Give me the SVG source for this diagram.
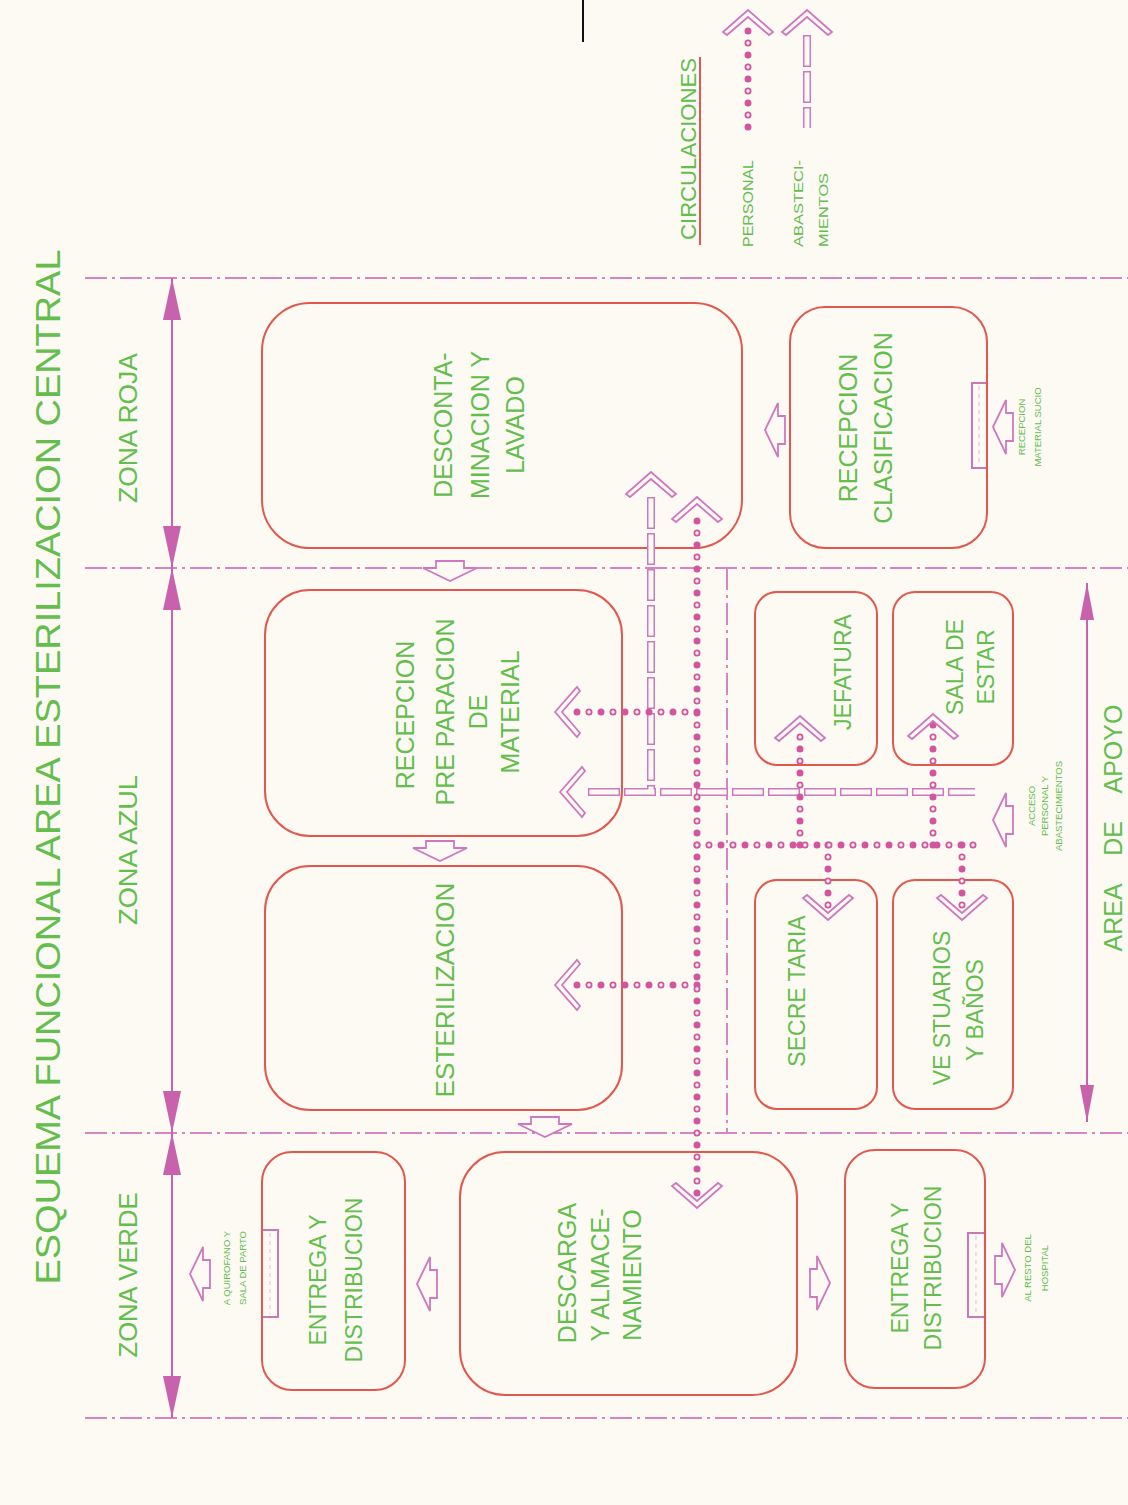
<svg xmlns="http://www.w3.org/2000/svg" xmlns:xlink="http://www.w3.org/1999/xlink" width="1128" height="1505" viewBox="0 0 1128 1505">
<style>
.bg{fill:#FCFAF3}
.t{font-family:"Liberation Sans",Arial,sans-serif;fill:#63BE4E;text-anchor:middle}
.ts{font-family:"Liberation Sans",Arial,sans-serif;fill:#63BE4E;text-anchor:start}
.room{fill:none;stroke:#E2584E;stroke-width:2}
.dd{fill:none;stroke:#D585C2;stroke-width:2;stroke-dasharray:22 5 3 5}
.dim{fill:none;stroke:#C862AC;stroke-width:2}
.tri{fill:#C862AC}
.chev{fill:#FCFAF3;stroke:#CF78BF;stroke-width:1.8}
.blk{fill:#FCFAF3;stroke:#CF78BF;stroke-width:1.8}
.brk{fill:none;stroke:#C878B5;stroke-width:2}
.brkd{fill:none;stroke:#E7B5DA;stroke-width:1;stroke-dasharray:4 4}
.so{fill:none;stroke:#CF78BF;stroke-width:8;stroke-dasharray:32 4}
.si{fill:none;stroke:#FCFAF3;stroke-width:5;stroke-dasharray:29 7;stroke-dashoffset:-1.5}
.pf{fill:none;stroke:#D3559E;stroke-width:7;stroke-linecap:round;stroke-dasharray:0 24}
.ph{fill:none;stroke:#D3559E;stroke-width:7;stroke-linecap:round;stroke-dasharray:0 24;stroke-dashoffset:-12}
.phi{fill:none;stroke:#FCFAF3;stroke-width:3.4;stroke-linecap:round;stroke-dasharray:0 24;stroke-dashoffset:-12}
</style>
<defs>
<path id="chv" d="M0,0 L25,22 L21,25 L0,7 L-21,25 L-25,22 Z"/>
<path id="blk" d="M0,-14 H7 V-27 L20,0 L7,27 V14 H0 Z"/>
<path id="sup" d="M651,497 V792 M588,792 H975 M807,35 V128"/>
<path id="pers" d="M697,521 V1200 M697,712 H573 M697,985 H570 M697,845 H978 M800,845 V725 M933,845 V723 M828,845 V912 M962,845 V912 M748,127 V22"/>
</defs>
<rect class="bg" x="0" y="0" width="1128" height="1505"/>

<g id="title">
<text class="t" font-size="35" textLength="1035" lengthAdjust="spacingAndGlyphs" dy="0.36em" transform="translate(47,767) rotate(-90)">ESQUEMA FUNCIONAL AREA ESTERILIZACION CENTRAL</text>
<line x1="583" y1="0" x2="583" y2="42" stroke="#111" stroke-width="2"/>
</g>

<g id="legend">
<text class="ts" font-size="22" textLength="182" lengthAdjust="spacingAndGlyphs" dy="0.36em" transform="translate(688,240) rotate(-90)">CIRCULACIONES</text>
<line x1="700" y1="57" x2="700" y2="245" stroke="#E2584E" stroke-width="2"/>
<text class="ts" font-size="15" textLength="87" lengthAdjust="spacingAndGlyphs" dy="0.36em" transform="translate(748,247) rotate(-90)">PERSONAL</text>
<text class="ts" font-size="13" textLength="87" lengthAdjust="spacingAndGlyphs" dy="0.36em" transform="translate(798,247) rotate(-90)">ABASTECI-</text>
<text class="ts" font-size="13" textLength="74" lengthAdjust="spacingAndGlyphs" dy="0.36em" transform="translate(823,247) rotate(-90)">MIENTOS</text>
</g>

<g id="zones">
<line class="dd" x1="85" y1="278" x2="1128" y2="278"/>
<line class="dd" x1="85" y1="568" x2="1128" y2="568"/>
<line class="dd" x1="85" y1="1133" x2="1128" y2="1133"/>
<line class="dd" x1="85" y1="1418" x2="1128" y2="1418"/>
<line class="dd" x1="727" y1="568" x2="727" y2="1133"/>
<line class="dim" x1="172" y1="278" x2="172" y2="1418"/>
<polygon class="tri" points="172,278 163,320 181,320"/>
<polygon class="tri" points="172,568 163,526 181,526"/>
<polygon class="tri" points="172,568 163,610 181,610"/>
<polygon class="tri" points="172,1133 163,1091 181,1091"/>
<polygon class="tri" points="172,1133 163,1175 181,1175"/>
<polygon class="tri" points="172,1418 163,1376 181,1376"/>
<text class="t" font-size="26" textLength="150" lengthAdjust="spacingAndGlyphs" dy="0.36em" transform="translate(128,428) rotate(-90)">ZONA ROJA</text>
<text class="t" font-size="26" textLength="150" lengthAdjust="spacingAndGlyphs" dy="0.36em" transform="translate(128,850) rotate(-90)">ZONA AZUL</text>
<text class="t" font-size="26" textLength="165" lengthAdjust="spacingAndGlyphs" dy="0.36em" transform="translate(128,1275) rotate(-90)">ZONA VERDE</text>
<line class="dim" x1="1087" y1="583" x2="1087" y2="1122"/>
<polygon class="tri" points="1087,583 1080,620 1094,620"/>
<polygon class="tri" points="1087,1122 1080,1085 1094,1085"/>
<text class="t" font-size="25" word-spacing="22" dy="0.36em" transform="translate(1113,828) rotate(-90)">AREA DE APOYO</text>
</g>

<g id="n-descontaminacion">
<rect class="room" x="262" y="303" width="480" height="245" rx="48"/>
<text class="t" font-size="25" dy="0.36em" transform="translate(443,425) rotate(-90)">DESCONTA-</text>
<text class="t" font-size="25" dy="0.36em" transform="translate(480,425) rotate(-90)">MINACION Y</text>
<text class="t" font-size="25" dy="0.36em" transform="translate(515,425) rotate(-90)">LAVADO</text>
</g>
<g id="n-recepcion-clasificacion">
<rect class="room" x="790" y="307" width="197" height="241" rx="35"/>
<text class="t" font-size="25" dy="0.36em" transform="translate(848,428) rotate(-90)">RECEPCION</text>
<text class="t" font-size="25" dy="0.36em" transform="translate(883,428) rotate(-90)">CLASIFICACION</text>
</g>
<g id="n-recepcion-preparacion">
<rect class="room" x="265" y="590" width="357" height="246" rx="45"/>
<text class="t" font-size="25" dy="0.36em" transform="translate(405,715) rotate(-90)">RECEPCION</text>
<text class="t" font-size="25" dy="0.36em" transform="translate(445,712) rotate(-90)">PRE PARACION</text>
<text class="t" font-size="25" dy="0.36em" transform="translate(478,712) rotate(-90)">DE</text>
<text class="t" font-size="25" dy="0.36em" transform="translate(510,712) rotate(-90)">MATERIAL</text>
</g>
<g id="n-esterilizacion">
<rect class="room" x="265" y="866" width="357" height="244" rx="45"/>
<text class="t" font-size="25" textLength="215" lengthAdjust="spacingAndGlyphs" dy="0.36em" transform="translate(445,990) rotate(-90)">ESTERILIZACION</text>
</g>
<g id="n-entrega-izq">
<rect class="room" x="262" y="1152" width="143" height="238" rx="30"/>
<text class="t" font-size="23" dy="0.36em" transform="translate(318,1280) rotate(-90)">ENTREGA Y</text>
<text class="t" font-size="23" dy="0.36em" transform="translate(354,1280) rotate(-90)">DISTRIBUCION</text>
</g>
<g id="n-descarga">
<rect class="room" x="460" y="1152" width="337" height="243" rx="45"/>
<text class="t" font-size="25" dy="0.36em" transform="translate(567,1273) rotate(-90)">DESCARGA</text>
<text class="t" font-size="25" dy="0.36em" transform="translate(600,1275) rotate(-90)">Y ALMACE-</text>
<text class="t" font-size="25" dy="0.36em" transform="translate(632,1275) rotate(-90)">NAMIENTO</text>
</g>
<g id="n-entrega-der">
<rect class="room" x="845" y="1150" width="140" height="238" rx="30"/>
<text class="t" font-size="23" dy="0.36em" transform="translate(900,1268) rotate(-90)">ENTREGA Y</text>
<text class="t" font-size="23" dy="0.36em" transform="translate(933,1268) rotate(-90)">DISTRIBUCION</text>
</g>
<g id="n-jefatura">
<rect class="room" x="755" y="592" width="122" height="173" rx="22"/>
<text class="t" font-size="23" dy="0.36em" transform="translate(843,672) rotate(-90)">JEFATURA</text>
</g>
<g id="n-sala-estar">
<rect class="room" x="893" y="592" width="120" height="173" rx="22"/>
<text class="t" font-size="23" dy="0.36em" transform="translate(955,667) rotate(-90)">SALA DE</text>
<text class="t" font-size="23" dy="0.36em" transform="translate(986,667) rotate(-90)">ESTAR</text>
</g>
<g id="n-secretaria">
<rect class="room" x="755" y="880" width="122" height="229" rx="22"/>
<text class="t" font-size="23" dy="0.36em" transform="translate(797,991) rotate(-90)">SECRE TARIA</text>
</g>
<g id="n-vestuarios">
<rect class="room" x="893" y="880" width="120" height="229" rx="22"/>
<text class="t" font-size="23" dy="0.36em" transform="translate(942,1008) rotate(-90)">VE STUARIOS</text>
<text class="t" font-size="23" dy="0.36em" transform="translate(975,1010) rotate(-90)">Y BAÑOS</text>
</g>

<g id="n-labels-small">
<text class="t" font-size="9.5" dy="0.36em" transform="translate(1022,427) rotate(-90)">RECEPCION</text>
<text class="t" font-size="9.5" dy="0.36em" transform="translate(1038,427) rotate(-90)">MATERIAL SUCIO</text>
<text class="t" font-size="9.5" dy="0.36em" transform="translate(1032,806) rotate(-90)">ACCESO</text>
<text class="t" font-size="9.5" dy="0.36em" transform="translate(1045,806) rotate(-90)">PERSONAL Y</text>
<text class="t" font-size="9.5" dy="0.36em" transform="translate(1059,806) rotate(-90)">ABASTECIMIENTOS</text>
<text class="t" font-size="9.5" dy="0.36em" transform="translate(227,1268) rotate(-90)">A QUIROFANO Y</text>
<text class="t" font-size="9.5" dy="0.36em" transform="translate(243,1268) rotate(-90)">SALA DE PARTO</text>
<text class="t" font-size="9.5" dy="0.36em" transform="translate(1028,1268) rotate(-90)">AL RESTO DEL</text>
<text class="t" font-size="9.5" dy="0.36em" transform="translate(1045,1268) rotate(-90)">HOSPITAL</text>
</g>

<g id="connectors">
<use xlink:href="#blk" class="blk" transform="translate(450,561) rotate(90)"/>
<use xlink:href="#blk" class="blk" transform="translate(440,841) rotate(90)"/>
<use xlink:href="#blk" class="blk" transform="translate(545,1117) rotate(90)"/>
<use xlink:href="#blk" class="blk" transform="translate(785,430) rotate(180)"/>
<use xlink:href="#blk" class="blk" transform="translate(437,1284) rotate(180)"/>
<use xlink:href="#blk" class="blk" transform="translate(810,1283)"/>
<use xlink:href="#blk" class="blk" transform="translate(1013,427) rotate(180)"/>
<use xlink:href="#blk" class="blk" transform="translate(1013,820) rotate(180)"/>
<use xlink:href="#blk" class="blk" transform="translate(210,1274) rotate(180)"/>
<use xlink:href="#blk" class="blk" transform="translate(995,1270)"/>

<path class="brk" d="M986,383 H972 V468 H986"/>
<line class="brkd" x1="979" y1="386" x2="979" y2="465"/>
<path class="brk" d="M263,1230 H278 V1317 H263"/>
<line class="brkd" x1="270" y1="1233" x2="270" y2="1314"/>
<path class="brk" d="M984,1233 H968 V1317 H984"/>
<line class="brkd" x1="976" y1="1236" x2="976" y2="1314"/>

<use xlink:href="#sup" class="so"/>
<use xlink:href="#sup" class="si"/>
<use xlink:href="#pers" class="pf"/>
<use xlink:href="#pers" class="ph"/>
<use xlink:href="#pers" class="phi"/>

<use xlink:href="#chv" class="chev" transform="translate(748,10)"/>
<use xlink:href="#chv" class="chev" transform="translate(807,10)"/>
<use xlink:href="#chv" class="chev" transform="translate(651,472)"/>
<use xlink:href="#chv" class="chev" transform="translate(697,497)"/>
<use xlink:href="#chv" class="chev" transform="translate(697,1208) rotate(180)"/>
<use xlink:href="#chv" class="chev" transform="translate(560,792) rotate(-90)"/>
<use xlink:href="#chv" class="chev" transform="translate(555,712) rotate(-90)"/>
<use xlink:href="#chv" class="chev" transform="translate(555,985) rotate(-90)"/>
<use xlink:href="#chv" class="chev" transform="translate(800,716)"/>
<use xlink:href="#chv" class="chev" transform="translate(933,714)"/>
<use xlink:href="#chv" class="chev" transform="translate(828,920) rotate(180)"/>
<use xlink:href="#chv" class="chev" transform="translate(962,920) rotate(180)"/>
</g>
</svg>
